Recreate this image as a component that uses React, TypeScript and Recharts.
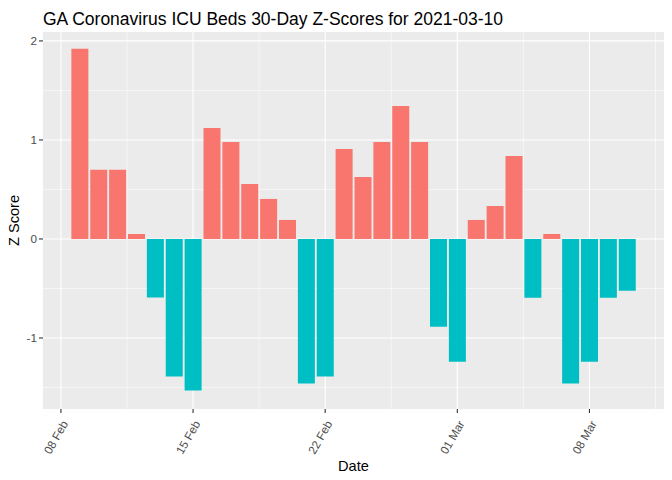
import React from "react";
import {
  BarChart,
  Bar,
  Cell,
  XAxis,
  YAxis,
  CartesianGrid,
  Label,
} from "recharts";

const dates = [
  "2021-02-09", "2021-02-10", "2021-02-11", "2021-02-12", "2021-02-13",
  "2021-02-14", "2021-02-15", "2021-02-16", "2021-02-17", "2021-02-18",
  "2021-02-19", "2021-02-20", "2021-02-21", "2021-02-22", "2021-02-23",
  "2021-02-24", "2021-02-25", "2021-02-26", "2021-02-27", "2021-02-28",
  "2021-03-01", "2021-03-02", "2021-03-03", "2021-03-04", "2021-03-05",
  "2021-03-06", "2021-03-07", "2021-03-08", "2021-03-09", "2021-03-10",
];

const zScores = [
  1.92, 0.7, 0.7, 0.05, -0.59,
  -1.39, -1.53, 1.12, 0.98, 0.556,
  0.404, 0.192, -1.46, -1.39, 0.909,
  0.626, 0.98, 1.343, 0.98, -0.886,
  -1.239, 0.192, 0.333, 0.838, -0.593,
  0.05, -1.46, -1.239, -0.593, -0.522,
];

// day offsets from 2021-02-08
const xTickDays = [0, 7, 14, 21, 28];
const xTickLabels = ["08 Feb", "15 Feb", "22 Feb", "01 Mar", "08 Mar"];
const xMinorDays = [3.5, 10.5, 17.5, 24.5, 31.5];
const yTicks = [-1, 0, 1, 2];
const yMinor = [-1.5, -0.5, 0.5, 1.5];

const POS = "#F8766D";
const NEG = "#00BFC4";
const FONT = "'Liberation Sans', Arial, sans-serif";

const origin = Date.UTC(2021, 1, 8);
const data = dates.map((d, i) => {
  const [y, m, dd] = d.split("-").map(Number);
  return {
    day: (Date.UTC(y, m - 1, dd) - origin) / 86400000,
    z: zScores[i],
  };
});

const XTick = (props: any) => {
  const { x, y, payload } = props;
  const idx = xTickDays.indexOf(payload.value);
  const tx = x + 5;
  const ty = y + 7;
  return (
    <text
      x={tx}
      y={ty}
      transform={`rotate(-60, ${tx}, ${ty})`}
      textAnchor="end"
      dominantBaseline="middle"
      fill="#4D4D4D"
      fontSize={11.7}
      fontFamily={FONT}
    >
      {idx >= 0 ? xTickLabels[idx] : ""}
    </text>
  );
};

const App: React.FC = () => {
  return (
    <div style={{ position: "absolute", left: 0, top: 0, width: 672, height: 480, background: "#fff" }}>
      <div
        style={{
          position: "absolute",
          left: 43,
          top: 9,
          fontFamily: FONT,
          fontSize: 17.5,
          lineHeight: "20px",
          color: "#000",
          whiteSpace: "nowrap",
        }}
      >
        GA Coronavirus ICU Beds 30-Day Z-Scores for 2021-03-10
      </div>
      <BarChart
        width={672}
        height={480}
        data={data}
        margin={{ top: 32, right: 8, bottom: 0, left: 0 }}
        barSize={17}
      >
        <CartesianGrid
          fill="#EBEBEB"
          stroke="#FFFFFF"
          strokeWidth={0.55}
          horizontalValues={yMinor}
          verticalValues={xMinorDays}
        />
        <CartesianGrid
          stroke="#FFFFFF"
          strokeWidth={1.1}
          horizontalValues={yTicks}
          verticalValues={xTickDays}
        />
        <XAxis
          dataKey="day"
          type="number"
          domain={[-0.95, 31.95]}
          ticks={xTickDays}
          allowDataOverflow
          axisLine={false}
          tickLine={{ stroke: "#333333", strokeWidth: 1.1 }}
          tickSize={4}
          tick={<XTick />}
          height={71}
          interval={0}
        >
          <Label
            value="Date"
            position="insideBottom"
            offset={9}
            style={{ fontFamily: FONT, fontSize: 14.6, fill: "#000" }}
          />
        </XAxis>
        <YAxis
          type="number"
          domain={[-1.717, 2.09]}
          ticks={yTicks}
          allowDataOverflow
          axisLine={false}
          tickLine={{ stroke: "#333333", strokeWidth: 1.1 }}
          tickSize={4}
          tickMargin={2}
          width={43}
          tick={{ fill: "#4D4D4D", fontSize: 11.7, fontFamily: FONT }}
        >
          <Label
            value="Z Score"
            angle={-90}
            position="insideLeft"
            offset={14}
            style={{ fontFamily: FONT, fontSize: 14.6, fill: "#000", textAnchor: "middle" }}
          />
        </YAxis>
        <Bar dataKey="z" isAnimationActive={false}>
          {data.map((d, i) => (
            <Cell key={`c-${i}`} fill={d.z >= 0 ? POS : NEG} />
          ))}
        </Bar>
      </BarChart>
    </div>
  );
};

export default App;
